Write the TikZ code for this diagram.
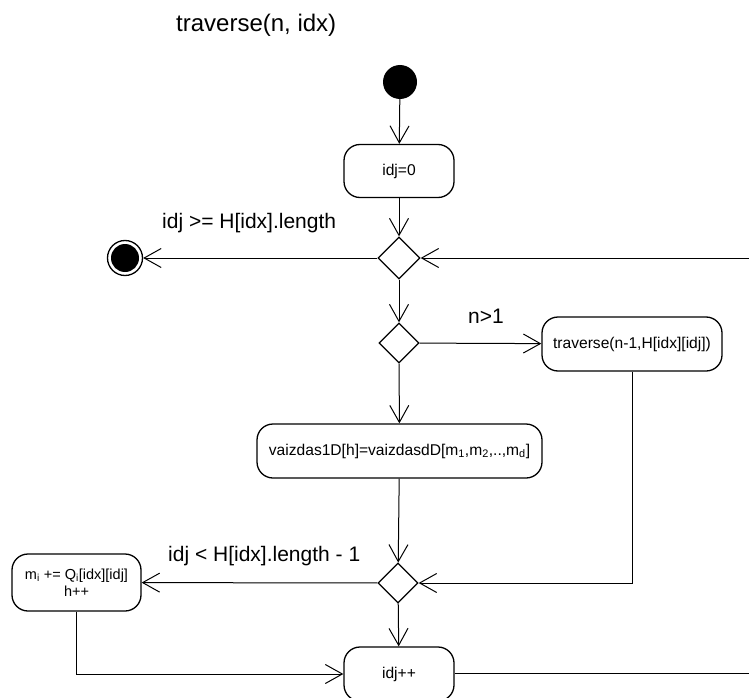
\documentclass[tikz,border=0pt]{standalone}
\usepackage{fontspec}
\setmainfont{Liberation Sans}
\usetikzlibrary{arrows.meta,shapes.geometric}

\tikzset{
  flow/.style={line width=1pt, -{Straight Barb[length=17pt,width=19pt,line width=1pt]}},
  plain/.style={line width=1pt},
  action/.style={draw, line width=1.3pt, rounded corners=16pt, align=center,
                 inner sep=0pt, font=\fontsize{15.6}{17}\selectfont},
  decision/.style={draw, line width=1.3pt, diamond, minimum width=42pt,
                   minimum height=42pt, inner sep=0pt},
  guard/.style={font=\fontsize{21}{24}\selectfont, inner sep=0pt, anchor=base west},
}

\begin{document}
\begin{tikzpicture}[x=1pt, y=-1pt]
  \useasboundingbox (0,0) rectangle (749,698);
  \clip (0,0) rectangle (749,698);

  % heading
  \node[anchor=base west, inner sep=0pt, font=\fontsize{24}{28}\selectfont] (title) at (176,32) {traverse(n, idx)};

  % initial and final states
  \node[circle, fill=black, minimum size=34pt, inner sep=0pt] (start) at (400,82) {};
  \node[circle, draw, line width=1.3pt, minimum size=35pt, inner sep=0pt] (final) at (125,258) {};
  \fill (final.center) circle (14pt);

  % actions
  \node[action, minimum width=110pt, minimum height=53pt] (init) at (399,171) {idj=0};
  \node[action, minimum width=180pt, minimum height=54pt] (rec) at (632,344) {traverse(n-1,H[idx][idj])};
  \node[action, minimum width=285pt, minimum height=54pt] (map) at (399.5,451)
    {vaizdas1D[h]=vaizdasdD[m\textsubscript{1},m\textsubscript{2},..,m\textsubscript{d}]};
  \node[action, minimum width=129pt, minimum height=57pt, font=\fontsize{14.5}{17}\selectfont] (upd) at (76.5,582.5)
    {m\textsubscript{i} += Q\textsubscript{i}[idx][idj]\\h++};
  \node[action, minimum width=110pt, minimum height=54pt] (inc) at (399,674) {idj++};

  % decisions
  \node[decision] (d1) at (399,258) {};
  \node[decision, minimum width=40pt, minimum height=40pt] (d2) at (399,343) {};
  \node[decision, minimum width=40pt, minimum height=40pt] (d3) at (398,583) {};

  % loop edge points at the right border
  \coordinate (loopout) at (750,673);
  \coordinate (loopin) at (750,258);

  % connectors
  \draw[flow] (start) -- (init);
  \draw[flow] (init) -- (d1);
  \draw[flow] (d1) -- (final);
  \draw[flow] (loopin) -- (d1);
  \draw[flow] (d1) -- (d2);
  \draw[flow] (d2) -- (rec);
  \draw[flow] (d2) -- (map);
  \draw[flow] (map) -- (d3);
  \draw[flow] (rec.south) |- (d3.east);
  \draw[flow] (d3) -- (upd);
  \draw[flow] (d3) -- (inc);
  \draw[flow] (upd.south) |- (inc.west);
  \draw[plain] (inc.east |- loopout) -- (loopout);

  % guards
  \node[guard] (g1) at (162,228) {idj >= H[idx].length};
  \node[guard] (g2) at (468,323) {n>1};
  \node[guard] (g3) at (168,561) {idj < H[idx].length - 1};
\end{tikzpicture}
\end{document}
